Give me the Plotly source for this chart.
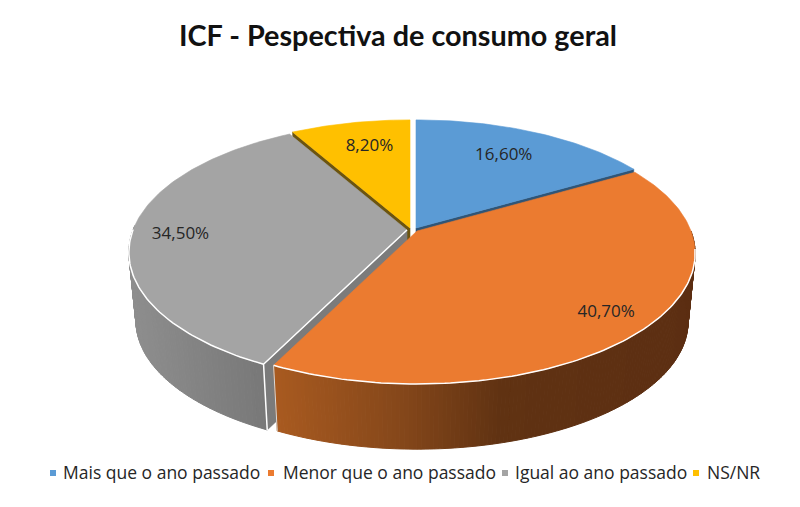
import math
import plotly.graph_objects as go

# --- data ---
categories = ["Mais que o ano passado", "Menor que o ano passado", "Igual ao ano passado", "NS/NR"]
values = [16.6, 40.7, 34.5, 8.2]
labels = ["16,60%", "40,70%", "34,50%", "8,20%"]
title = "ICF - Pespectiva de consumo geral"

# --- style ---
top_colors = ["#5B9BD5", "#EB7B30", "#A4A4A4", "#FFC000"]
cut_colors = ["#2F5577", "#5C2F12", "#7B7B7B", "#6B5410"]
apex = [(416, 228), (417, 231), (407, 230), (410, 228)]
label_r = [0.72, 0.85, 0.82, 0.75]
label_nudge = [(-1, -1), (0, 0), (-1, 2), (6, 0)]
legend_marker_x = [53, 271, 505, 696]
legend_text_x = [63, 283, 515, 707]
LEGEND_Y = 473
LEGEND_TEXT_Y = 475
OX, OY = 8, 8  # page margin of the browser
R, S, K = 274.0, 126.7, 0.172
R2, S2, D = 267.0, 123.5, 69.0
orange_stops = [(270, (170, 91, 32)), (400, (133, 71, 26)), (500, (96, 50, 18)), (700, (92, 46, 18))]
gray_stops = [(125, (143, 143, 143)), (265, (120, 120, 120))]
TEXT = "#262626"


def top(th, ax, ay, r=1.0):
    u, v = r * math.sin(th), r * math.cos(th)
    f = 1 + K * v
    return ax + R * u / f, ay - S * v / f


def bot(th, ax, ay):
    u, v = math.sin(th), math.cos(th)
    f = 1 + K * v
    return ax + R2 * u / f, ay + D - S2 * v / f


def grad(x, stops):
    if x <= stops[0][0]:
        c = stops[0][1]
    elif x >= stops[-1][0]:
        c = stops[-1][1]
    else:
        for (a, ca), (b, cb) in zip(stops, stops[1:]):
            if a <= x <= b:
                t = (x - a) / (b - a)
                c = tuple(p + (q - p) * t for p, q in zip(ca, cb))
                break
    return "rgb(%d,%d,%d)" % tuple(round(p) for p in c)


def angles(a, b, step=math.radians(1.0)):
    n = max(2, int(abs(b - a) / step))
    return [a + (b - a) * i / n for i in range(n + 1)]


total = sum(values)
edges = [0.0]
for val in values:
    edges.append(edges[-1] + val / total * 2 * math.pi)

fig = go.Figure()


def poly(pts, color, lw=0.6):
    fig.add_trace(go.Scatter(
        x=[p[0] for p in pts] + [pts[0][0]], y=[p[1] for p in pts] + [pts[0][1]],
        mode="lines", fill="toself", fillcolor=color,
        line=dict(color=color, width=lw), hoverinfo="skip", showlegend=False))


def line(pts, color="#FFFFFF", width=1.5):
    fig.add_trace(go.Scatter(
        x=[p[0] for p in pts], y=[p[1] for p in pts], mode="lines",
        line=dict(color=color, width=width), hoverinfo="skip", showlegend=False))


def top_face(i):
    ax, ay = apex[i]
    pts = [(ax, ay)] + [top(t, ax, ay) for t in angles(edges[i], edges[i + 1])]
    poly(pts, top_colors[i])


def cut_face(i, th):
    ax, ay = apex[i]
    poly([(ax, ay), top(th, ax, ay), bot(th, ax, ay), (ax, ay + D)], cut_colors[i])


def outer_wall(i, a0, a1, stops, step=0.75):
    ax, ay = apex[i]
    ts = angles(a0, a1, math.radians(step))
    for a, b in zip(ts, ts[1:]):
        pts = [top(a, ax, ay), top(b, ax, ay), bot(b, ax, ay), bot(a, ax, ay)]
        poly(pts, grad(sum(p[0] for p in pts) / 4, stops), 1.0)


# back slices
cut_face(3, edges[3])
top_face(3)
cut_face(0, edges[1])
top_face(0)

# gray slice
outer_wall(2, edges[2], math.radians(272), gray_stops)
cut_face(2, edges[2])
top_face(2)
gx, gy = apex[2]
line([top(t, gx, gy) for t in angles(edges[2], edges[2] + math.radians(64))])
line([(gx, gy), top(edges[2], gx, gy), bot(edges[2], gx, gy)])

# orange slice
outer_wall(1, math.radians(90), edges[2], orange_stops)
top_face(1)
ox, oy = apex[1]
line([top(t, ox, oy) for t in angles(math.radians(98), edges[2])])
line([top(edges[2], ox, oy), bot(edges[2], ox, oy)], "#D9D9D9", 1)

# data labels
for i, lab in enumerate(labels):
    mid = (edges[i] + edges[i + 1]) / 2
    x, y = top(mid, apex[i][0], apex[i][1], label_r[i])
    fig.add_trace(go.Scatter(
        x=[x + label_nudge[i][0]], y=[y + label_nudge[i][1]], mode="text", text=[lab],
        textposition="middle center",
        textfont=dict(family="Open Sans", size=17, color=TEXT),
        hoverinfo="skip", showlegend=False))

# legend entries
for cat, col, mx, tx in zip(categories, top_colors, legend_marker_x, legend_text_x):
    fig.add_trace(go.Scatter(
        x=[mx], y=[LEGEND_Y], mode="markers",
        marker=dict(symbol="square", size=6, color=col),
        hoverinfo="skip", showlegend=False))
    fig.add_trace(go.Scatter(
        x=[tx], y=[LEGEND_TEXT_Y], mode="text", text=[cat], textposition="middle right",
        textfont=dict(family="Open Sans", size=17.5, color=TEXT),
        hoverinfo="skip", showlegend=False))

fig.update_layout(
    width=800, height=507, autosize=False, showlegend=False,
    paper_bgcolor="#FFFFFF", plot_bgcolor="#FFFFFF",
    margin=dict(l=0, r=0, t=0, b=0),
    xaxis=dict(range=[OX, 800 + OX], visible=False, fixedrange=True),
    yaxis=dict(range=[507 + OY, OY], visible=False, fixedrange=True),
    title=dict(text="<b>%s</b>" % title, x=(398 - OX) / 800, y=1 - (36 - OY) / 507,
               xanchor="center", yanchor="middle",
               font=dict(family="Lato", size=28.8, color="#111111")),
)

fig.write_html("out.html")
